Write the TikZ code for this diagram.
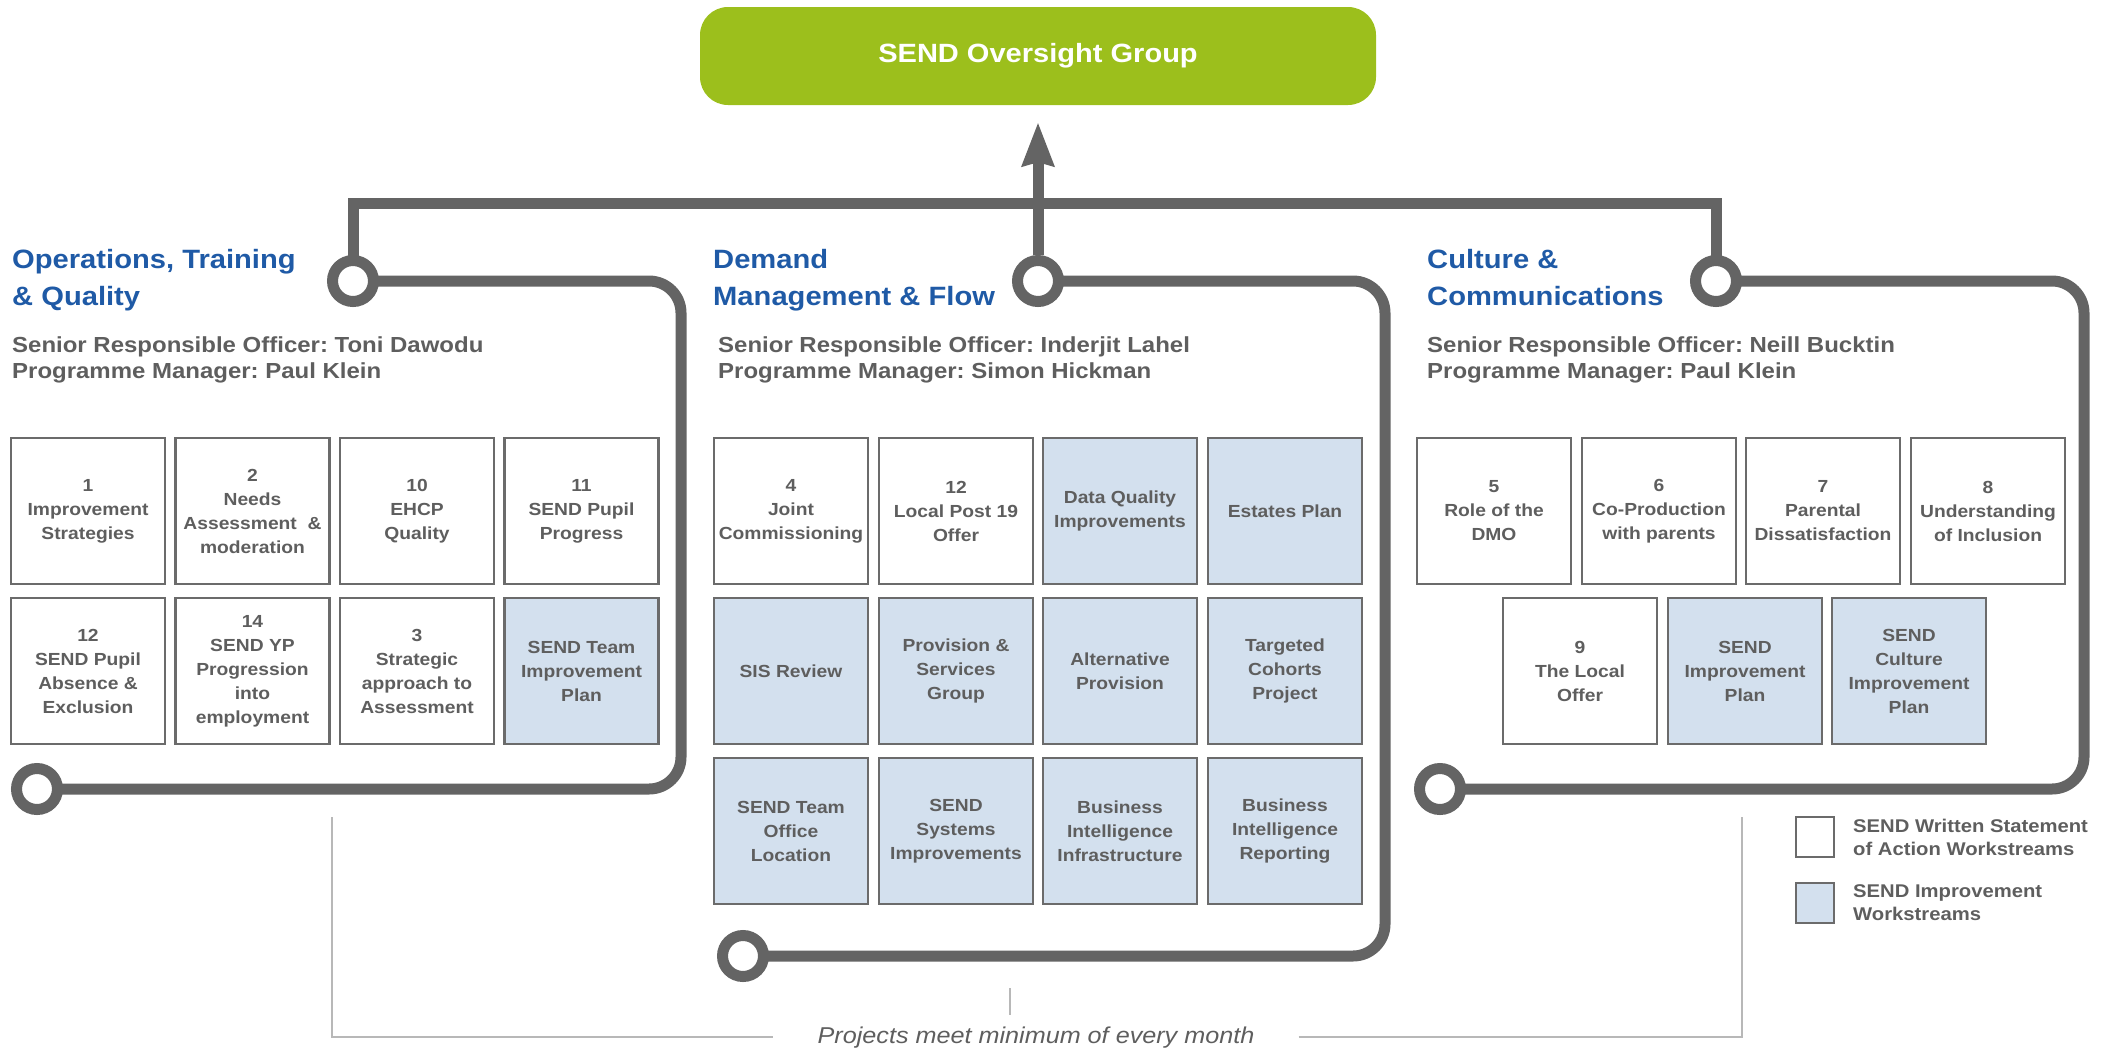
\documentclass[tikz,border=0pt]{standalone}
\usepackage{fontspec}
\setmainfont{Liberation Sans}[FakeStretch=1.1]
\usetikzlibrary{arrows.meta,backgrounds}
\definecolor{lgreen}{HTML}{9CBF1C}
\definecolor{hblue}{HTML}{1F5AA6}
\definecolor{tgray}{HTML}{5E5E5E}
\definecolor{lgray}{HTML}{646464}
\definecolor{bfill}{HTML}{D3E0EE}
\definecolor{bgray}{HTML}{B8B8B8}
\definecolor{edge}{HTML}{6B6B6B}
\frenchspacing
\begin{document}
\begin{tikzpicture}[x=1pt,y=-1pt,
  ws/.style={draw=edge, line width=2.5pt, fill=white, minimum width=154pt, minimum height=146pt, inner sep=0pt, align=center, text=tgray, font=\bfseries\fontsize{17.5}{24}\selectfont},
  imp/.style={ws, fill=bfill},
  ring/.style={circle, draw=lgray, line width=11pt, fill=white, minimum size=41pt, inner sep=0pt},
  rail/.style={draw=lgray, line width=11pt},
  heading/.style={anchor=base west, inner sep=0pt, text=hblue, font=\bfseries\fontsize{26.5}{32}\selectfont},
  subtxt/.style={anchor=base west, inner sep=0pt, text=tgray, font=\bfseries\fontsize{21.8}{26}\selectfont},
  legtxt/.style={anchor=base west, inner sep=0pt, text=tgray, font=\bfseries\fontsize{18.4}{23}\selectfont},
  legbox/.style={draw=edge, line width=2.5pt, minimum width=38pt, minimum height=40pt, inner sep=0pt},
  thin/.style={draw=bgray, line width=2pt}
]
\useasboundingbox (0,0) rectangle (2109,1047);

% top group
\node[fill=lgreen, rounded corners=28pt, minimum width=676pt, minimum height=98pt, inner sep=0pt, text=white, font=\bfseries\fontsize{26.4}{32}\selectfont] (osg) at (1038,56) {SEND Oversight Group};

% rings
\node[ring] (cOpsT) at (353,281) {};
\node[ring] (cOpsB) at (37,789) {};
\node[ring] (cDemT) at (1038,281) {};
\node[ring] (cDemB) at (743,956) {};
\node[ring] (cCulT) at (1716,281) {};
\node[ring] (cCulB) at (1440,789) {};

\coordinate (barY) at (0,203);
\coordinate (opsR) at (681,0);
\coordinate (demR) at (1385,0);
\coordinate (culR) at (2084,0);

\begin{scope}[on background layer]
\draw[rail] (cOpsT.center) -- (cOpsT |- barY) -- (cCulT |- barY) -- (cCulT.center);
\draw[rail, rounded corners=32pt] (cOpsT.center) -- (opsR |- cOpsT) -- (opsR |- cOpsB) -- (cOpsB.center);
\draw[rail, rounded corners=32pt] (cDemT.center) -- (demR |- cDemT) -- (demR |- cDemB) -- (cDemB.center);
\draw[rail, rounded corners=32pt] (cCulT.center) -- (culR |- cCulT) -- (culR |- cCulB) -- (cCulB.center);
\end{scope}
\draw[rail, -{Stealth[length=44pt,width=34pt,inset=5pt,line width=0pt]}] (cDemT.north) -- ([yshift=-18pt]osg.south);

% headings
\node[heading] (opsH1) at (12,268) {Operations, Training};
\node[heading] (opsH2) at (12,305) {\& Quality};
\node[subtxt] (opsS1) at (12,352) {Senior Responsible Officer: Toni Dawodu};
\node[subtxt] (opsS2) at (12,378) {Programme Manager: Paul Klein};

\node[heading] (demH1) at (713,268) {Demand};
\node[heading] (demH2) at (713,305) {Management \& Flow};
\node[subtxt] (demS1) at (718,352) {Senior Responsible Officer: Inderjit Lahel};
\node[subtxt] (demS2) at (718,378) {Programme Manager: Simon Hickman};

\node[heading] (culH1) at (1427,268) {Culture \&};
\node[heading] (culH2) at (1427,305) {Communications};
\node[subtxt] (culS1) at (1427,352) {Senior Responsible Officer: Neill Bucktin};
\node[subtxt] (culS2) at (1427,378) {Programme Manager: Paul Klein};

% operations boxes
\node[ws] (o1) at (88,511) {1\\Improvement\\Strategies};
\node[ws] (o2) at (252.5,511) {2\\Needs\\Assessment\ \ \&\\moderation};
\node[ws] (o3) at (417,511) {10\\EHCP\\Quality};
\node[ws] (o4) at (581.5,511) {11\\SEND Pupil\\Progress};
\node[ws] (o5) at (88,671) {12\\SEND Pupil\\Absence \&\\Exclusion};
\node[ws] (o6) at (252.5,671) {14\\SEND YP\\Progression\\into\\employment};
\node[ws] (o7) at (417,671) {3\\Strategic\\approach to\\Assessment};
\node[imp] (o8) at (581.5,671) {SEND Team\\Improvement\\Plan};

% demand boxes
\node[ws] (d1) at (791,511) {4\\Joint\\Commissioning};
\node[ws] (d2) at (956,511) {12\\Local Post 19\\Offer};
\node[imp] (d3) at (1120,511) {Data Quality\\Improvements};
\node[imp] (d4) at (1285,511) {Estates Plan};
\node[imp] (d5) at (791,671) {SIS Review};
\node[imp] (d6) at (956,671) {Provision \&\\Services\\Group};
\node[imp] (d7) at (1120,671) {Alternative\\Provision};
\node[imp] (d8) at (1285,671) {Targeted\\Cohorts\\Project};
\node[imp] (d9) at (791,831) {SEND Team\\Office\\Location};
\node[imp] (d10) at (956,831) {SEND\\Systems\\Improvements};
\node[imp] (d11) at (1120,831) {Business\\Intelligence\\Infrastructure};
\node[imp] (d12) at (1285,831) {Business\\Intelligence\\Reporting};

% culture boxes
\node[ws] (c1) at (1494,511) {5\\Role of the\\DMO};
\node[ws] (c2) at (1659,511) {6\\Co-Production\\with parents};
\node[ws] (c3) at (1823,511) {7\\Parental\\Dissatisfaction};
\node[ws] (c4) at (1988,511) {8\\Understanding\\of Inclusion};
\node[ws] (c5) at (1580,671) {9\\The Local\\Offer};
\node[imp] (c6) at (1745,671) {SEND\\Improvement\\Plan};
\node[imp] (c7) at (1909,671) {SEND\\Culture\\Improvement\\Plan};

% legend
\node[legbox, fill=white] (legW) at (1815,837) {};
\node[legbox, fill=bfill] (legI) at (1815,903) {};
\node[legtxt] (legW1) at (1853,832) {SEND Written Statement};
\node[legtxt] (legW2) at (1853,855) {of Action Workstreams};
\node[legtxt] (legI1) at (1853,897) {SEND Improvement};
\node[legtxt] (legI2) at (1853,920) {Workstreams};

% bracket
\node[anchor=base, inner sep=0pt, inner xsep=44pt, text=tgray, font=\itshape\fontsize{22.9}{26}\selectfont] (proj) at (1036,1043) {Projects meet minimum of every month};
\coordinate (brY) at (0,1037);
\coordinate (brLT) at (332,817);
\coordinate (brRT) at (1742,817);
\coordinate (tickT) at (1010,988);
\coordinate (tickB) at (1010,1015);
\draw[thin] (brLT) -- (brLT |- brY) -- (proj.west |- brY);
\draw[thin] (proj.east |- brY) -- (brRT |- brY) -- (brRT);
\draw[thin, line width=1.5pt] (tickT) -- (tickB);
\end{tikzpicture}
\end{document}
